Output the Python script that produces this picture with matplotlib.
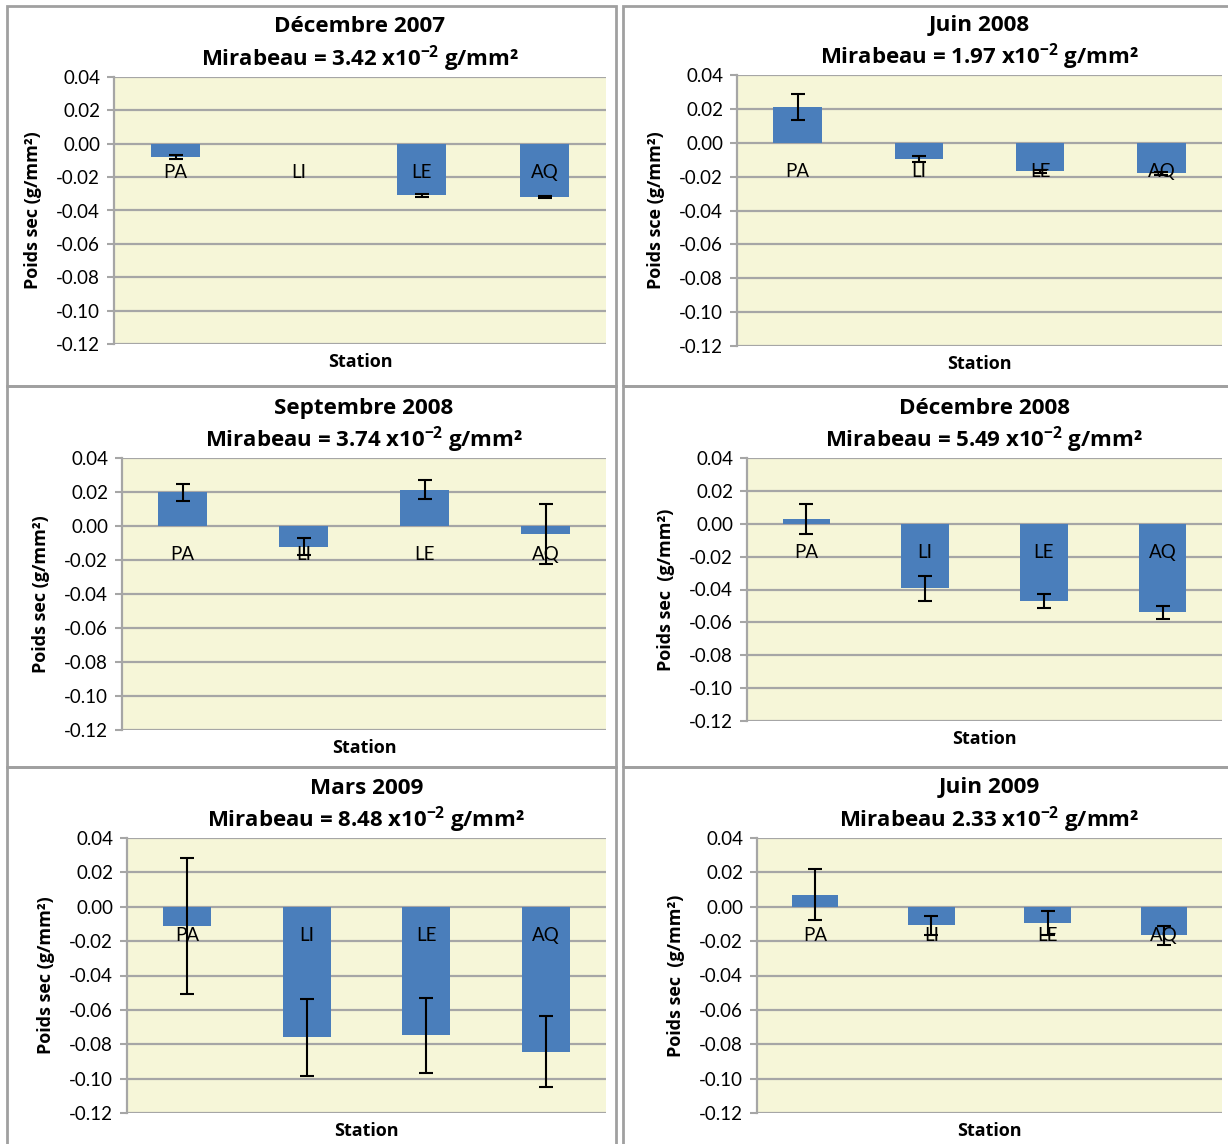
import numpy as np
import matplotlib
matplotlib.use("Agg")
import matplotlib.pyplot as plt
from matplotlib.patches import Rectangle

plt.rcParams["font.family"] = ["Lato", "DejaVu Sans"]
plt.rcParams["mathtext.fontset"] = "custom"
plt.rcParams["mathtext.rm"] = "Open Sans"
plt.rcParams["mathtext.bf"] = "Open Sans:bold"
BOLD = ["Open Sans", "DejaVu Sans"]

stations = ["PA", "LI", "LE", "AQ"]
titles = ["Décembre 2007", "Juin 2008", "Septembre 2008",
          "Décembre 2008", "Mars 2009", "Juin 2009"]
mirabeau = ["Mirabeau = 3.42", "Mirabeau = 1.97", "Mirabeau = 3.74",
            "Mirabeau = 5.49", "Mirabeau = 8.48", "Mirabeau 2.33"]
ylabels = ["Poids sec (g/mm²)", "Poids sce (g/mm²)", "Poids sec (g/mm²)",
           "Poids sec  (g/mm²)", "Poids sec (g/mm²)", "Poids sec  (g/mm²)"]

# mean dry weight difference to Mirabeau, and error bar half-length
dec2007 = [-0.0080, np.nan, -0.0310, -0.0320]
dec2007_err = [0.0010, np.nan, 0.0010, 0.0007]
jun2008 = [0.0212, -0.0096, -0.0169, -0.0180]
jun2008_err = [0.0075, 0.0018, 0.0010, 0.0008]
sep2008 = [0.0198, -0.0123, 0.0214, -0.0046]
sep2008_err = [0.0050, 0.0050, 0.0055, 0.0175]
dec2008 = [0.0028, -0.0392, -0.0469, -0.0539]
dec2008_err = [0.0093, 0.0075, 0.0041, 0.0041]
mar2009 = [-0.0112, -0.0760, -0.0747, -0.0844]
mar2009_err = [0.0397, 0.0222, 0.0218, 0.0206]
jun2009 = [0.0070, -0.0109, -0.0095, -0.0167]
jun2009_err = [0.0148, 0.0055, 0.0072, 0.0054]

means = [dec2007, jun2008, sep2008, dec2008, mar2009, jun2009]
errs = [dec2007_err, jun2008_err, sep2008_err, dec2008_err, mar2009_err, jun2009_err]
yticks = [0.04, 0.02, 0.00, -0.02, -0.04, -0.06, -0.08, -0.10, -0.12]

W, H = 1228, 1144
fig = plt.figure(figsize=(W / 100, H / 100), dpi=100)

# panel frames (left, top, right, bottom) in pixels
frames = [(7, 6, 616, 386), (623, 6, 1240, 386),
          (7, 386, 616, 767), (623, 386, 1240, 767),
          (7, 767, 616, 1160), (623, 767, 1240, 1160)]
for l, t, r, b in frames:
    fig.patches.append(Rectangle((l / W, 1 - b / H), (r - l) / W, (b - t) / H,
                                 transform=fig.transFigure, fill=False,
                                 edgecolor="#a0a0a0", lw=2))

# plot areas (left, top, right, bottom) in pixels
areas = [(114, 77, 606, 344), (737, 75, 1222, 346),
         (122, 458, 606, 730), (747, 458, 1222, 721),
         (127, 838, 606, 1113), (757, 838, 1222, 1113)]

grid_col = "#a6a6a6"
x = np.arange(len(stations))
for i, (l, t, r, b) in enumerate(areas):
    ax = fig.add_axes([l / W, 1 - b / H, (r - l) / W, (b - t) / H])
    ax.set_facecolor("#f6f6d8")
    ax.bar(x, means[i], width=0.4, color="#4a7ebb", zorder=2)
    ax.errorbar(x, means[i], yerr=errs[i], fmt="none", ecolor="black",
                elinewidth=1.5, capsize=5, capthick=1.5, zorder=4)
    ax.set_xlim(-0.5, 3.5)
    ax.set_ylim(-0.12, 0.04)
    ax.set_yticks(yticks)
    ax.set_yticklabels([f"{v:.2f}" for v in yticks], fontsize=13.5)
    ax.set_xticks([])
    for yv in yticks:
        ax.axhline(yv, color=grid_col, lw=1.6, zorder=1)
    for s in ["top", "right", "bottom"]:
        ax.spines[s].set_visible(False)
    ax.spines["left"].set_color(grid_col)
    ax.spines["left"].set_linewidth(1.6)
    ax.tick_params(axis="y", length=5, width=1.5, color=grid_col, pad=5)
    for k, name in enumerate(stations):
        ax.annotate(name, xy=(x[k], 0), xytext=(0, -20.5), textcoords="offset points",
                    ha="center", va="center", fontsize=13.5, zorder=3)
    ax.annotate(titles[i], xy=(0.5, 1), xycoords="axes fraction",
                xytext=(0, 36), textcoords="offset points", family=BOLD,
                ha="center", va="center", fontsize=16.2, fontweight="bold")
    ax.annotate(mirabeau[i] + r" x10$^{\mathbf{-2}}$ g/mm²", xy=(0.5, 1),
                xycoords="axes fraction", xytext=(0, 13), textcoords="offset points",
                family=BOLD, ha="center", va="center", fontsize=16, fontweight="bold")
    ax.annotate("Station", xy=(0.5, 0), xycoords="axes fraction",
                xytext=(0, -13), textcoords="offset points", family=BOLD,
                ha="center", va="center", fontsize=13, fontweight="bold")
    ax.annotate(ylabels[i], xy=(0, 0.5), xycoords="axes fraction",
                xytext=(-58, 0), textcoords="offset points", rotation=90,
                family=BOLD, ha="center", va="center", fontsize=13, fontweight="bold")

fig.savefig("out.png", dpi=100)
